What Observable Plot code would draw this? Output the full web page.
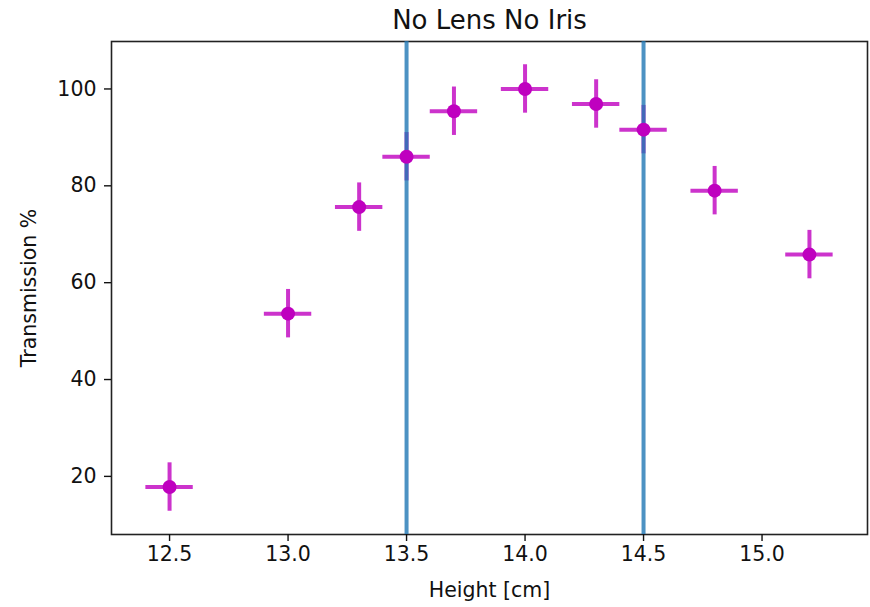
<!DOCTYPE html>
<html>
<head>
<meta charset="utf-8">
<script src="https://cdn.jsdelivr.net/npm/d3@7"></script>
<script src="https://cdn.jsdelivr.net/npm/@observablehq/plot@0.6"></script>
<style>
  html, body { margin: 0; padding: 0; background: #fff; }
  #chart svg { display: block; font-family: "DejaVu Sans", sans-serif; }
</style>
</head>
<body>
<div id="chart"></div>
<script>
const heights = [12.5, 13.0, 13.3, 13.5, 13.7, 14.0, 14.3, 14.5, 14.8, 15.2];
const transmission = [17.8, 53.6, 75.6, 86.0, 95.4, 100.0, 96.9, 91.6, 79.0, 65.8];
const xErr = 0.1;
const yErr = 5;
const vLines = [13.5, 14.5];
const xTicks = [12.5, 13.0, 13.5, 14.0, 14.5, 15.0];
const yTicks = [20, 40, 60, 80, 100];
const titleText = "No Lens No Iris";

const data = heights.map((h, i) => ({x: h, y: transmission[i]}));

const chart = Plot.plot({
  width: 870,
  height: 607,
  marginLeft: 111,
  marginRight: 3,
  marginTop: 41,
  marginBottom: 73,
  style: {fontFamily: "DejaVu Sans, sans-serif", color: "#111", background: "#fff"},
  x: {domain: [12.255, 15.445]},
  y: {domain: [8.0, 109.8]},
  marks: [
    Plot.frame({stroke: "#222", strokeWidth: 1.6}),
    Plot.axisX({ticks: xTicks, tickFormat: d => d.toFixed(1), tickSize: 7, tickPadding: 5, fontSize: 20.5,
      label: "Height [cm]", labelAnchor: "center", labelOffset: 62, labelArrow: "none", strokeWidth: 1.4}),
    Plot.axisY({ticks: yTicks, tickSize: 7, tickPadding: 8, fontSize: 20.5,
      label: "Transmission %", labelAnchor: "center", labelOffset: 90, labelArrow: "none", strokeWidth: 1.4}),
    Plot.ruleX(data, {x: "x", y1: d => d.y - yErr, y2: d => d.y + yErr, stroke: "#bf00bf", strokeOpacity: 0.8, strokeWidth: 4}),
    Plot.ruleY(data, {y: "y", x1: d => d.x - xErr, x2: d => d.x + xErr, stroke: "#bf00bf", strokeOpacity: 0.8, strokeWidth: 4}),
    Plot.ruleX(vLines, {stroke: "#1f77b4", strokeOpacity: 0.8, strokeWidth: 4}),
    Plot.dot(data, {x: "x", y: "y", r: 7, fill: "#bf00bf", stroke: "none"}),
    Plot.text([titleText], {text: d => d, frameAnchor: "top", dy: -21, fontSize: 26, fill: "#111", lineAnchor: "middle"})
  ]
});
document.getElementById("chart").appendChild(chart);
</script>
</body>
</html>
